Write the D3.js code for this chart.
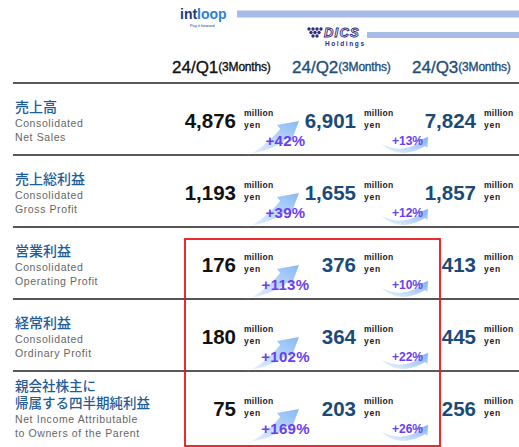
<!DOCTYPE html>
<html>
<head>
<meta charset="utf-8">
<script src="https://cdn.jsdelivr.net/npm/d3@7"></script>
<style>
  body { margin: 0; background: #fff; }
  svg { display: block; }
</style>
</head>
<body>
<svg id="chart" width="519" height="447"></svg>
<script>
const LATIN = '"Liberation Sans", Arial, sans-serif';
const CJK = '"Noto Sans CJK JP", sans-serif';
const NAVY = '#1b4a78';

const quarters = ['24/Q1', '24/Q2', '24/Q3'];
const periodNote = '(3Months)';
const metricsJa = [['売上高'], ['売上総利益'], ['営業利益'], ['経常利益'], ['親会社株主に', '帰属する四半期純利益']];
const metricsEn = [
  ['Consolidated', 'Net Sales'],
  ['Consolidated', 'Gross Profit'],
  ['Consolidated', 'Operating Profit'],
  ['Consolidated', 'Ordinary Profit'],
  ['Net Income Attributable', 'to Owners of the Parent']
];
const q1Values = [4876, 1193, 176, 180, 75];
const q2Values = [6901, 1655, 376, 364, 203];
const q3Values = [7824, 1857, 413, 445, 256];
const growthQ1toQ2 = [42, 39, 113, 102, 169];
const growthQ2toQ3 = [13, 12, 10, 22, 26];
const highlightRows = [2, 3, 4]; // operating profit and below, Q1 -> Q2

const svg = d3.select('#chart');

const y = d3.scaleBand().domain(d3.range(metricsJa.length)).range([83, 443]);
const x = d3.scalePoint().domain(quarters).range([236, 476]);
const fmt = d3.format(',');

// gradients for the growth arrows
const defs = svg.append('defs');
function addGradient(id, from, to) {
  const g = defs.append('linearGradient').attr('id', id)
    .attr('x1', 0).attr('y1', 1).attr('x2', 1).attr('y2', 0);
  g.append('stop').attr('offset', '0%').attr('stop-color', from);
  g.append('stop').attr('offset', '100%').attr('stop-color', to);
}
addGradient('bigArrow', '#f4f8ff', '#86b9f5');
addGradient('smallArrow', '#f0f6ff', '#7db2f3');

// ---- header logos ----
const header = svg.append('g');
header.append('rect').attr('x', 237).attr('y', 10.5).attr('width', 282).attr('height', 7).attr('fill', '#a8bbe7');
header.append('rect').attr('x', 367).attr('y', 32).attr('width', 152).attr('height', 6).attr('fill', '#a8bbe7');

const intloop = header.append('text')
  .attr('x', 180).attr('y', 14)
  .attr('dominant-baseline', 'central')
  .style('font', `bold 14px ${LATIN}`);
intloop.append('tspan').attr('fill', '#1d3a7c').text('int');
intloop.append('tspan').attr('fill', '#2f7fd6').text('loop');
header.append('text')
  .attr('x', 190).attr('y', 25)
  .attr('dominant-baseline', 'central')
  .attr('fill', '#1d3a7c')
  .style('font', `4px ${LATIN}`)
  .text('Pay it forward');

const grapes = [[1, 0], [5, 0], [9, 0], [13, 0], [3, 3.5], [7, 3.5], [11, 3.5], [5, 7], [9, 7]];
header.selectAll('circle.grape')
  .data(grapes)
  .join('circle')
  .attr('class', 'grape')
  .attr('cx', d => 308 + d[0])
  .attr('cy', d => 29 + d[1])
  .attr('r', 1.7)
  .attr('fill', '#2c2d80');
header.append('text')
  .attr('x', 324).attr('y', 32.5)
  .attr('dominant-baseline', 'central')
  .attr('fill', '#fff').attr('stroke', '#2c2d80').attr('stroke-width', 0.9)
  .attr('letter-spacing', 1.2)
  .style('font', `italic bold 13px ${LATIN}`)
  .text('DICS');
header.append('text')
  .attr('x', 325).attr('y', 43)
  .attr('dominant-baseline', 'central')
  .attr('fill', '#2c2d80')
  .attr('letter-spacing', 1.6)
  .style('font', `bold 6.5px ${LATIN}`)
  .text('Holdings');

// ---- column headers ----
const colHead = svg.selectAll('text.col-head')
  .data(quarters)
  .join('text')
  .attr('class', 'col-head')
  .attr('x', d => x(d) - 64)
  .attr('y', 67)
  .attr('dominant-baseline', 'central')
  .attr('fill', (d, i) => i === 0 ? '#111' : '#1f4e79')
  .attr('stroke', (d, i) => i === 0 ? '#111' : '#1f4e79')
  .attr('stroke-width', 0.35)
  .style('font-family', LATIN);
colHead.append('tspan').style('font-size', '17px').text(d => d);
colHead.append('tspan').style('font-size', '12px').attr('letter-spacing', -0.2).text(periodNote);

// ---- row separators ----
svg.selectAll('line.sep')
  .data(y.domain())
  .join('line')
  .attr('class', 'sep')
  .attr('x1', 13).attr('x2', 519)
  .attr('y1', d => y(d)).attr('y2', d => y(d))
  .attr('stroke', (d, i) => (i === 2 || i === 3) ? '#555' : '#222')
  .attr('stroke-width', (d, i) => (i === 2 || i === 3) ? 2 : 1.5);

// ---- rows ----
const rows = svg.selectAll('g.row')
  .data(y.domain())
  .join('g')
  .attr('class', 'row')
  .attr('transform', d => `translate(0,${y(d)})`);

rows.each(function(i) {
  const row = d3.select(this);
  const ja = metricsJa[i];
  const twoLines = ja.length > 1;
  const jaStart = twoLines ? 14 : 22.5;

  // Japanese label: one text, one tspan per line
  row.append('text')
    .attr('class', 'ja')
    .attr('dominant-baseline', 'central')
    .attr('fill', '#1f5c99')
    .style('font', `500 ${twoLines ? 13.5 : 14}px ${CJK}`)
    .selectAll('tspan')
    .data(ja)
    .join('tspan')
    .attr('x', 15)
    .attr('y', (d, k) => jaStart + k * 16.5)
    .text(d => d);

  const enStart = jaStart + (ja.length - 1) * 16.5 + 17.5;
  row.selectAll('text.en')
    .data(metricsEn[i])
    .join('text')
    .attr('class', 'en')
    .attr('x', 15)
    .attr('y', (d, k) => enStart + k * 14)
    .attr('dominant-baseline', 'central')
    .attr('fill', '#666')
    .attr('letter-spacing', 0.6)
    .style('font', `10.5px ${LATIN}`)
    .text(d => d);

  // growth arrows (drawn first so numbers sit on top)
  const x1 = x(quarters[0]);
  const x2 = x(quarters[1]);
  row.append('path')
    .attr('transform', `translate(${x1},0)`)
    .attr('d', 'M6,72 Q36,69 51.8,55.1 L55,59 L63,38 L41,42.1 L44.2,45.9 Q30,63 14,71 Z')
    .attr('fill', 'url(#bigArrow)');
  row.append('path')
    .attr('transform', `translate(${x2},0)`)
    .attr('d', 'M26,61 Q44,78 69,63 L71.4,64.8 L72,54 L61.8,57.6 L64.2,59.4 Q44,71 26,61 Z')
    .attr('fill', 'url(#smallArrow)');

  const vals = [q1Values[i], q2Values[i], q3Values[i]];
  const cells = row.selectAll('g.cell')
    .data(quarters)
    .join('g')
    .attr('class', 'cell')
    .attr('transform', d => `translate(${x(d)},0)`);

  cells.append('text')
    .attr('text-anchor', 'end')
    .attr('y', 37)
    .attr('dominant-baseline', 'central')
    .attr('fill', (d, k) => k === 0 ? '#111' : NAVY)
    .style('font', `bold 20.5px ${LATIN}`)
    .text((d, k) => fmt(vals[k]));
  cells.append('text')
    .attr('x', 8).attr('y', 30)
    .attr('dominant-baseline', 'central')
    .attr('fill', '#222')
    .attr('letter-spacing', 0.3)
    .style('font', `bold 8.5px ${LATIN}`)
    .text('million');
  cells.append('text')
    .attr('x', 8).attr('y', 42)
    .attr('dominant-baseline', 'central')
    .attr('fill', '#222')
    .attr('letter-spacing', 0.8)
    .style('font', `bold 8.5px ${LATIN}`)
    .text('yen');

  row.append('text')
    .attr('x', x1 + 49.5).attr('y', 57)
    .attr('text-anchor', 'middle')
    .attr('dominant-baseline', 'central')
    .attr('fill', '#6a3ef2')
    .attr('letter-spacing', 0.3)
    .style('font', `bold 15px ${LATIN}`)
    .text(`+${growthQ1toQ2[i]}%`);
  row.append('text')
    .attr('x', x2 + 51.5).attr('y', 58)
    .attr('text-anchor', 'middle')
    .attr('dominant-baseline', 'central')
    .attr('fill', '#6a3ef2')
    .style('font', `bold 12px ${LATIN}`)
    .text(`+${growthQ2toQ3[i]}%`);
});

// ---- highlight box ----
const boxTop = y(highlightRows[0]) + 12;
const boxBottom = y(highlightRows[highlightRows.length - 1]) + y.bandwidth() + 3;
const boxLeft = x(quarters[0]) - 51;
const boxRight = x(quarters[1]) + 84;
svg.append('rect')
  .attr('x', boxLeft)
  .attr('y', boxTop)
  .attr('width', boxRight - boxLeft)
  .attr('height', boxBottom - boxTop)
  .attr('fill', 'none')
  .attr('stroke', '#e8141b')
  .attr('stroke-width', 1.8);
</script>
</body>
</html>
